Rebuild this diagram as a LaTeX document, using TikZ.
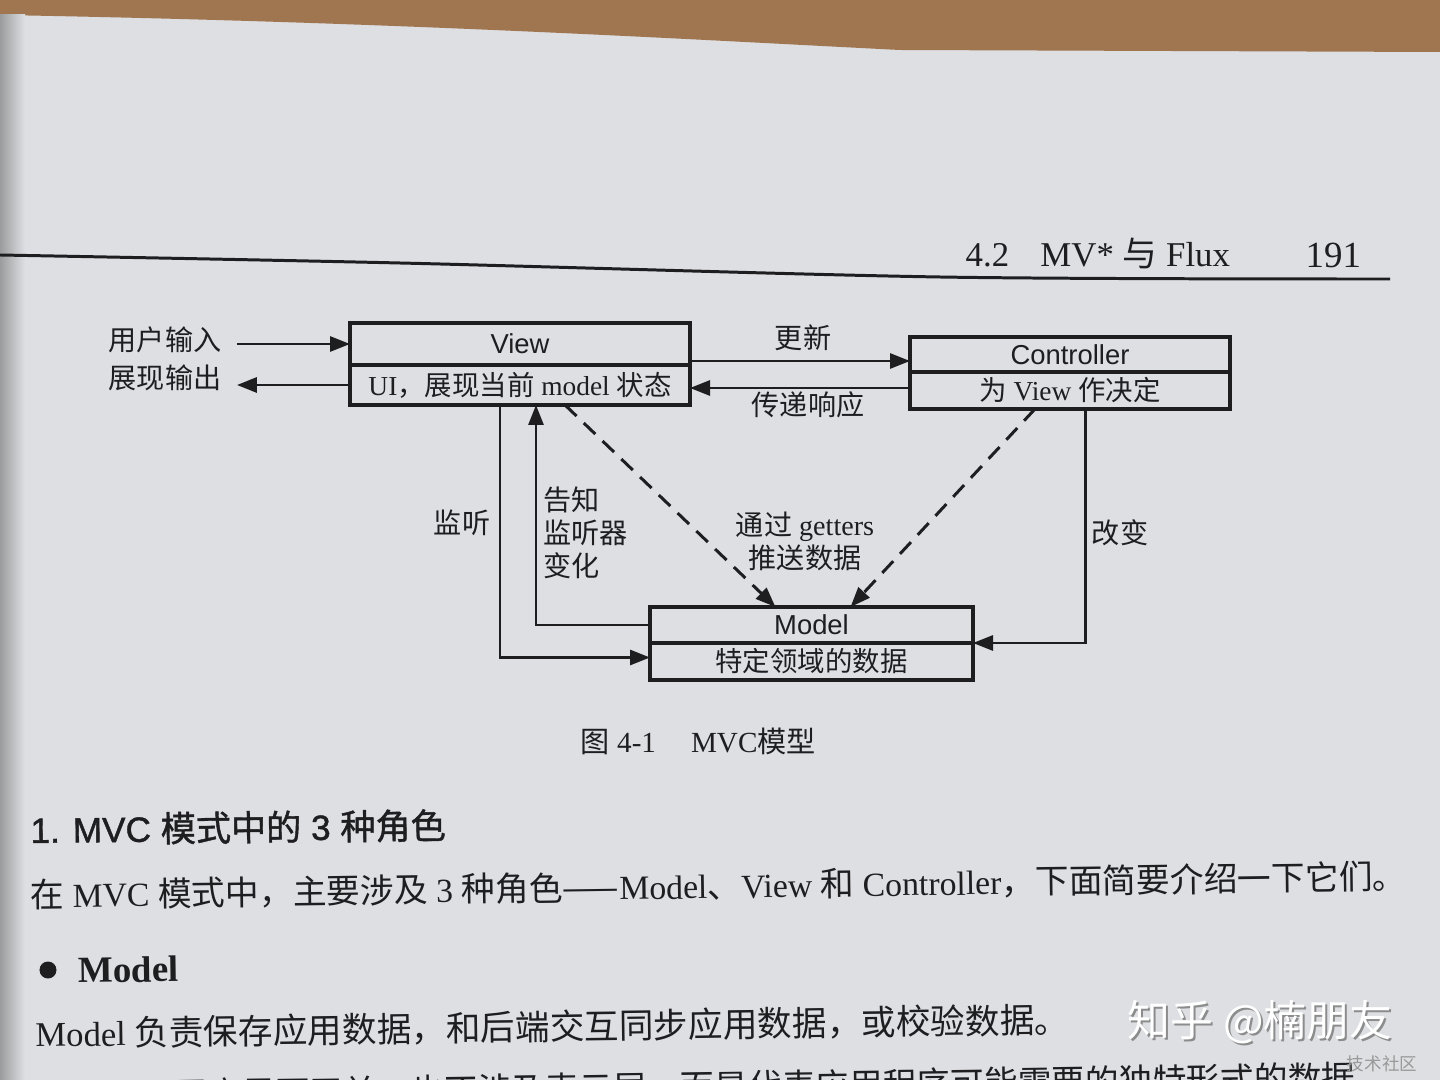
\documentclass[tikz,border=0pt]{standalone}
\usepackage{fontspec}
\setmainfont{Liberation Serif}
\setsansfont{Liberation Sans}
\newfontfamily\cjk{Noto Sans CJK SC}
\newfontfamily\cjkhead[FakeBold=1.2]{Noto Sans CJK SC}
\newfontfamily\sanshead[FakeBold=1.2]{Liberation Sans}
\usetikzlibrary{arrows.meta,positioning}
\definecolor{paper}{RGB}{221,223,227}
\definecolor{ink}{RGB}{30,30,33}
\definecolor{wood}{RGB}{160,118,80}
\newcommand{\zh}[1]{{\cjk #1}}
\newcommand{\zhh}[1]{{\cjkhead #1}}

\begin{document}
\begin{tikzpicture}[>={Triangle[length=2mm,width=1.5mm]},
  cell/.style={draw=ink, line width=1pt, minimum width=#1, inner sep=0pt, outer sep=0pt, text=ink},
  lbl/.style={inner sep=0pt, text=ink, font=\fontsize{8}{9.4}\selectfont},
  conn/.style={->, draw=ink, line width=0.85pt},
  dconn/.style={conn, dash pattern=on 1.6mm off 1mm},
  body/.style={inner sep=0pt, text=ink, anchor=base west, rotate=0.8}]
  \useasboundingbox (0,0) rectangle (14.4,-10.8);
  % Page and desk
  \fill[paper] (0,0) rectangle (14.4,-10.8);
  \fill[wood] (0,0) -- (14.4,0) -- (14.4,-0.52) -- (9,-0.50) .. controls (7,-0.40) and (4,-0.22) .. (0,-0.15) -- cycle;
  \shade[left color=gray!70!paper, right color=paper] (0,-0.15) rectangle (0.25,-10.8);

  % Running head
  \draw[ink, line width=0.85pt] plot[smooth] coordinates {(0,-2.55) (4,-2.63) (9.4,-2.77) (13.9,-2.79)};
  \node[inner sep=0pt, text=ink, anchor=base west, font=\fontsize{9.9}{12}\selectfont] (head) at (9.65,-2.67) {4.2\hspace{0.9em}MV* \zh{与} Flux};
  \node[inner sep=0pt, text=ink, anchor=base west, font=\fontsize{10.5}{12}\selectfont] (page) at (13.05,-2.68) {191};

  % Boxes
  \node[cell=3.40cm, minimum height=4.2mm, font=\sffamily\fontsize{7.8}{9}\selectfont] (viewtop) at (5.20,-3.44) {View};
  \node[cell=3.40cm, minimum height=4.0mm, font=\fontsize{7.8}{9}\selectfont, below=0pt of viewtop] (viewbot) {UI\zh{，展现当前} model \zh{状态}};
  \node[cell=3.20cm, minimum height=3.5mm, font=\sffamily\fontsize{7.8}{9}\selectfont] (ctltop) at (10.70,-3.545) {Controller};
  \node[cell=3.20cm, minimum height=3.7mm, font=\fontsize{7.8}{9}\selectfont, below=0pt of ctltop] (ctlbot) {\zh{为} View \zh{作决定}};
  \node[cell=3.23cm, minimum height=3.6mm, font=\sffamily\fontsize{7.8}{9}\selectfont] (modeltop) at (8.115,-6.25) {Model};
  \node[cell=3.23cm, minimum height=3.7mm, font=\fontsize{7.8}{9}\selectfont, below=0pt of modeltop] (modelbot) {\zh{特定领域的数据}};

  % Labels
  \node[lbl] (uin) at (1.65,-3.40) {\zh{用户输入}};
  \node[lbl] (uout) at (1.65,-3.78) {\zh{展现输出}};
  \node[lbl] (upd) at (8.03,-3.38) {\zh{更新}};
  \node[lbl] (resp) at (8.08,-4.05) {\zh{传递响应}};
  \node[lbl] (listen) at (4.62,-5.23) {\zh{监听}};
  \node[lbl, align=left, anchor=west] (notify) at (5.43,-5.33) {\zh{告知}\\\zh{监听器}\\\zh{变化}};
  \node[lbl, align=center] (push) at (8.05,-5.41) {\zh{通过} getters\\\zh{推送数据}};
  \node[lbl] (change) at (11.20,-5.33) {\zh{改变}};

  % Connectors
  \draw[conn] ([xshift=1.5mm]uin.east |- viewtop.west) -- (viewtop.west);
  \draw[conn] (viewbot.west) -- ([xshift=1.5mm]uout.east |- viewbot.west);
  \draw[conn] ([yshift=0.4mm]viewtop.south east) -- ([yshift=0.4mm]viewtop.south east -| ctltop.west);
  \draw[conn] ([yshift=-1.6mm]ctltop.south west) -- ([yshift=-1.6mm]ctltop.south west -| viewbot.east);
  \draw[conn] ([xshift=-2mm]viewbot.south) |- ([yshift=0.4mm]modelbot.west);
  \draw[conn] (modeltop.west) -| ([xshift=1.6mm]viewbot.south);
  \draw[dconn] ([xshift=4.5mm]viewbot.south) -- ([xshift=-3.6mm]modeltop.north);
  \draw[dconn] ([xshift=-3.5mm]ctlbot.south) -- ([xshift=3.9mm]modeltop.north);
  \draw[conn] ([xshift=1.5mm]ctlbot.south) |- (modeltop.south east);

  % Caption
  \node[inner sep=0pt, text=ink, anchor=base west, font=\fontsize{8.3}{10}\selectfont] (cap) at (5.80,-7.52) {\zh{图} 4-1\hspace{1.2em}MVC\zh{模型}};

  % Text below
  \node[body, rotate=-0.2, font=\sanshead\fontsize{10}{12}\selectfont] (sec) at (0.30,-8.43) {1. MVC \zhh{模式中的} 3 \zhh{种角色}};
  \node[body, font=\fontsize{9.6}{11}\selectfont] (par1) at (0.30,-9.08) {\zh{在} MVC \zh{模式中，主要涉及} 3 \zh{种角色——}Model\zh{、}View \zh{和} Controller\zh{，下面简要介绍一下它们。}};
  \fill[ink] (0.48,-9.70) circle (0.085);
  \node[body, font=\bfseries\fontsize{10.5}{12}\selectfont] (bul) at (0.78,-9.83) {Model};
  \node[body, font=\fontsize{9.85}{11}\selectfont] (par2) at (0.35,-10.47) {Model \zh{负责保存应用数据，和后端交互同步应用数据，或校验数据。}};
  \node[body, anchor=base east, font=\fontsize{9.6}{11}\selectfont] (par3) at (13.90,-10.90) {\zh{用户界面无关，也不涉及表示层，而是代表应用程序可能需要的独特形式的数据。}};

  % Watermarks
  \node[inner sep=0pt, text=black!45, font=\cjk\fontsize{12.2}{14}\selectfont] at (12.62,-10.24) {知乎 @楠朋友};
  \node[inner sep=0pt, text=white, font=\cjk\fontsize{12.2}{14}\selectfont] (mark) at (12.60,-10.22) {知乎 @楠朋友};
  \node[inner sep=0pt, text=black!40, font=\cjk\fontsize{5}{6}\selectfont] (mark2) at (13.82,-10.64) {技术社区};
\end{tikzpicture}
\end{document}
